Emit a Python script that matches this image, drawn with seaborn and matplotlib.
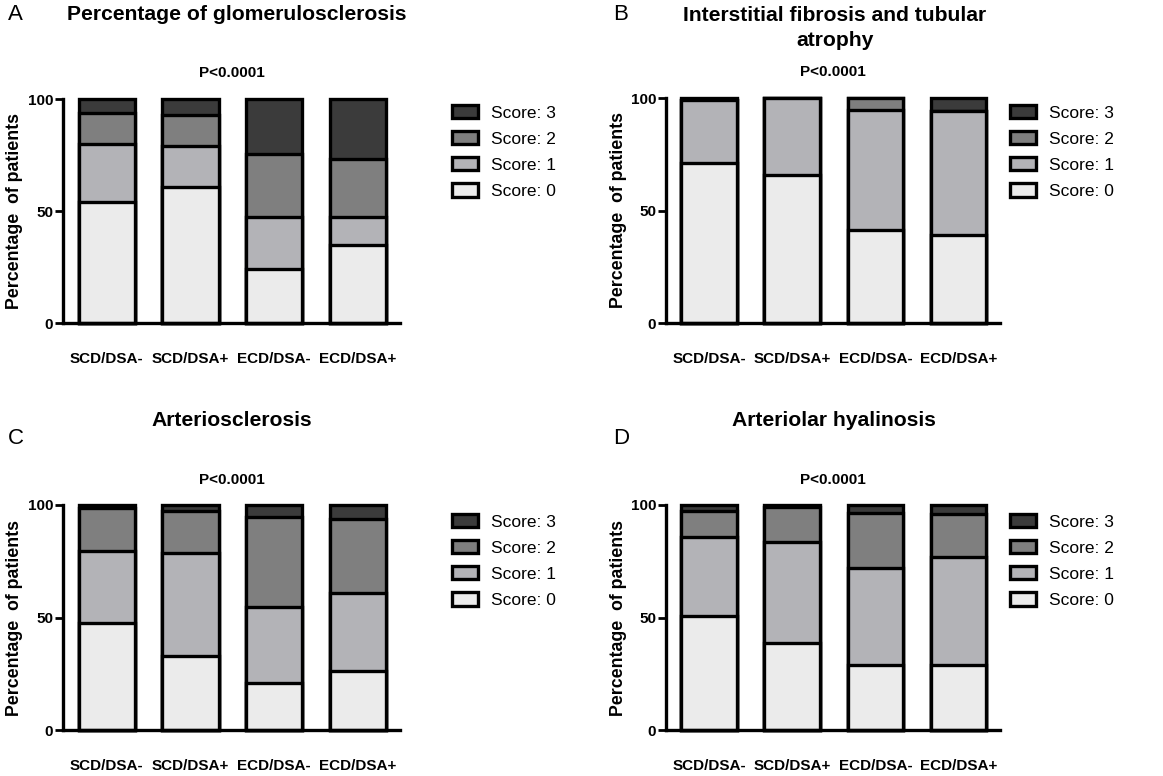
import numpy as np
import matplotlib
matplotlib.use("Agg")
import matplotlib.pyplot as plt
import matplotlib.transforms as mtransforms
import seaborn as sns
from matplotlib.patches import Patch

# Groups shown on every panel
groups = ["SCD/DSA-", "SCD/DSA+", "ECD/DSA-", "ECD/DSA+"]
score_labels = ["Score: 0", "Score: 1", "Score: 2", "Score: 3"]
score_colors = ["#ebebeb", "#b3b3b7", "#7f7f7f", "#3b3b3b"]

# Percentage of patients per score, one list per score (groups in order above)
glom_score0 = [54.0, 60.7, 24.3, 34.7]
glom_score1 = [26.1, 18.3, 23.0, 12.6]
glom_score2 = [13.7, 13.7, 28.0, 25.8]
glom_score3 = [6.2, 7.3, 24.7, 26.9]

ifta_score0 = [71.1, 65.6, 41.2, 39.3]
ifta_score1 = [27.9, 34.4, 53.3, 54.8]
ifta_score2 = [0.0, 0.0, 5.5, 0.0]
ifta_score3 = [1.0, 0.0, 0.0, 5.9]

arterio_score0 = [47.4, 32.9, 21.0, 26.4]
arterio_score1 = [32.2, 45.6, 33.8, 34.3]
arterio_score2 = [19.2, 18.8, 39.7, 32.9]
arterio_score3 = [1.2, 2.7, 5.5, 6.4]

hyal_score0 = [50.7, 38.5, 28.9, 28.9]
hyal_score1 = [35.2, 45.2, 43.2, 48.1]
hyal_score2 = [11.4, 15.6, 24.5, 19.0]
hyal_score3 = [2.7, 0.7, 3.4, 4.0]

y_ticks = [0, 50, 100]
p_text = "P<0.0001"

sns.set_style("ticks")
plt.rcParams["font.family"] = ["Liberation Sans", "DejaVu Sans"]
for key in ("text.color", "axes.labelcolor", "xtick.color", "ytick.color", "axes.edgecolor"):
    plt.rcParams[key] = "black"

W, H = 1163, 776
fig = plt.figure(figsize=(W / 100, H / 100), dpi=100)


def px_axes(left, top, right, bottom):
    return fig.add_axes([left / W, 1 - bottom / H, (right - left) / W, (bottom - top) / H])


def stacked(ax, layers):
    cum = np.cumsum(np.array(layers), axis=0)
    # draw tallest cumulative layer first so lower segments sit on top
    for k in range(len(layers) - 1, -1, -1):
        sns.barplot(x=groups, y=cum[k], order=groups, color=score_colors[k],
                    saturation=1, width=0.67, edgecolor="black", linewidth=2.4,
                    ax=ax, errorbar=None)
    for p in ax.patches:
        p.set_clip_on(False)
    ax.set_xlim(-0.52, 3.5)
    ax.set_ylim(0, 100)
    ax.set_yticks(y_ticks)
    ax.set_xlabel("")
    ax.set_ylabel("Percentage  of patients", fontsize=12.8, fontweight="bold")
    ax.yaxis.set_label_coords(-0.118, 0.5)
    sns.despine(ax=ax)
    for s in ("left", "bottom"):
        ax.spines[s].set_linewidth(2.4)
        ax.spines[s].set_color("black")
    ax.tick_params(axis="y", length=6, width=2, pad=1, labelsize=11, colors="black")
    ax.tick_params(axis="x", length=0, pad=21, labelsize=11, colors="black")
    for t in ax.get_xticklabels() + ax.get_yticklabels():
        t.set_fontweight("bold")


def legend(ax, x, y):
    handles = [Patch(facecolor=score_colors[k], edgecolor="black", linewidth=2.4,
                     label=score_labels[k]) for k in range(3, -1, -1)]
    ax.legend(handles=handles, loc="upper left", bbox_to_anchor=(x / W, 1 - y / H),
              bbox_transform=fig.transFigure, frameon=False, fontsize=12.5,
              handlelength=1.5, handleheight=0.8, handletextpad=0.75,
              labelspacing=0.6, borderpad=0, borderaxespad=0)


panels = [
    ("A", (63, 99, 400, 323), [glom_score0, glom_score1, glom_score2, glom_score3]),
    ("B", (666, 98, 1000, 323), [ifta_score0, ifta_score1, ifta_score2, ifta_score3]),
    ("C", (63, 505, 400, 730), [arterio_score0, arterio_score1, arterio_score2, arterio_score3]),
    ("D", (666, 505, 1000, 730), [hyal_score0, hyal_score1, hyal_score2, hyal_score3]),
]

axes = {}
for name, box, layers in panels:
    ax = px_axes(*box)
    stacked(ax, layers)
    axes[name] = ax

legend(axes["A"], 452, 105)
legend(axes["B"], 1010, 105)
legend(axes["C"], 452, 514)
legend(axes["D"], 1010, 514)

# panel letters
fig.text(8 / W, 1 - 15 / H, "A", fontsize=16, va="center", ha="left")
fig.text(613 / W, 1 - 15 / H, "B", fontsize=16, va="center", ha="left")
fig.text(8 / W, 1 - 438 / H, "C", fontsize=16, va="center", ha="left")
fig.text(613 / W, 1 - 438 / H, "D", fontsize=16, va="center", ha="left")

# panel titles
title_kw = dict(fontsize=15.2, fontweight="bold", ha="center", va="center")
fig.text(237 / W, 1 - 15 / H, "Percentage of glomerulosclerosis", **title_kw)
fig.text(835 / W, 1 - 28 / H, "Interstitial fibrosis and tubular\natrophy",
         linespacing=1.35, **title_kw)
fig.text(232 / W, 1 - 421 / H, "Arteriosclerosis", **title_kw)
fig.text(834 / W, 1 - 421 / H, "Arteriolar hyalinosis", **title_kw)

# significance annotations, centred over each panel
for name, ypx in (("A", 73), ("B", 72), ("C", 480), ("D", 480)):
    ax = axes[name]
    tr = mtransforms.blended_transform_factory(ax.transAxes, fig.transFigure)
    fig.text(0.5, 1 - ypx / H, p_text, transform=tr, fontsize=11, fontweight="bold",
             ha="center", va="center")

fig.savefig("out.png", dpi=100, facecolor="white")
